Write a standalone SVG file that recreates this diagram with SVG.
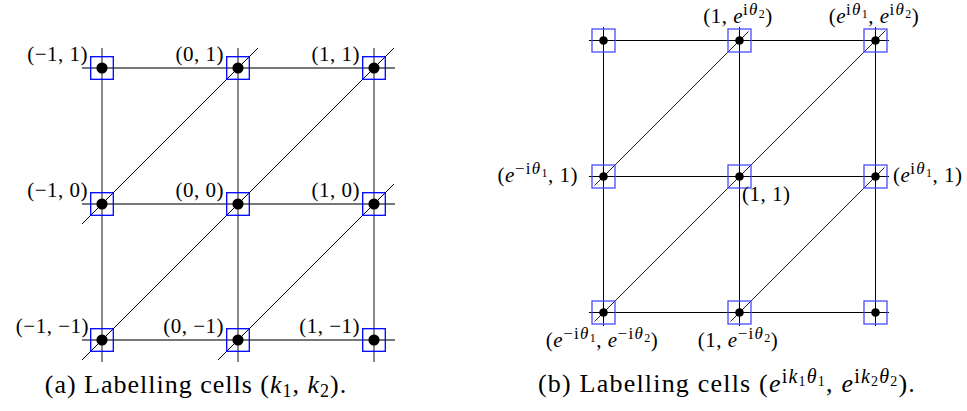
<svg xmlns="http://www.w3.org/2000/svg" width="967" height="411" viewBox="0 0 967 411" font-family="'Liberation Serif', 'DejaVu Serif', serif">
<style>
.lb{font-size:21px;letter-spacing:0.5px}
.cap{font-size:26px;letter-spacing:1px}
.capb{font-size:26px;letter-spacing:1.2px}
.it{font-style:italic}
.sp{font-size:17px;letter-spacing:1.3px}
.ss{font-size:12px;letter-spacing:0.5px}
.csp{font-size:20px}
.css{font-size:14px}
.gA{stroke:#4a4a4a;stroke-width:1.3;fill:none}
.dA{stroke:#000;stroke-width:1;fill:none}
.gB{stroke:#000;stroke-width:1;fill:none}
.dB{stroke:#000;stroke-width:0.9;fill:none}
.boxA{fill:none;stroke:#0000ff;stroke-width:1.3}
.boxB{fill:none;stroke:#4a4aff;stroke-width:1.3}
.dotA{fill:#000}
.dotB{fill:#000}
</style>
<rect width="967" height="411" fill="#fff"/>
<!-- Panel (a) connectors -->
<g id="connectors-a">
<line class="gA" x1="82" y1="68" x2="395" y2="68"/>
<line class="gA" x1="82" y1="204" x2="395" y2="204"/>
<line class="gA" x1="82" y1="340" x2="395" y2="340"/>
<line class="gA" x1="102" y1="48" x2="102" y2="362"/>
<line class="gA" x1="238" y1="48" x2="238" y2="362"/>
<line class="gA" x1="374" y1="48" x2="374" y2="362"/>
<line class="dA" x1="82" y1="360" x2="394" y2="48"/>
<line class="dA" x1="82" y1="224" x2="258" y2="48"/>
<line class="dA" x1="218" y1="360" x2="394" y2="184"/>
</g>
<!-- Panel (a) nodes -->
<g id="a-m1-1"><rect class="boxA" x="90.7" y="56.7" width="22.6" height="22.6"/><circle class="dotA" cx="102" cy="68" r="5.6"/><text class="lb" x="88" y="61" text-anchor="end">(−1, 1)</text></g>
<g id="a-0-1"><rect class="boxA" x="226.7" y="56.7" width="22.6" height="22.6"/><circle class="dotA" cx="238" cy="68" r="5.6"/><text class="lb" x="224" y="61" text-anchor="end">(0, 1)</text></g>
<g id="a-1-1"><rect class="boxA" x="362.7" y="56.7" width="22.6" height="22.6"/><circle class="dotA" cx="374" cy="68" r="5.6"/><text class="lb" x="360" y="61" text-anchor="end">(1, 1)</text></g>
<g id="a-m1-0"><rect class="boxA" x="90.7" y="192.7" width="22.6" height="22.6"/><circle class="dotA" cx="102" cy="204" r="5.6"/><text class="lb" x="88" y="197" text-anchor="end">(−1, 0)</text></g>
<g id="a-0-0"><rect class="boxA" x="226.7" y="192.7" width="22.6" height="22.6"/><circle class="dotA" cx="238" cy="204" r="5.6"/><text class="lb" x="224" y="197" text-anchor="end">(0, 0)</text></g>
<g id="a-1-0"><rect class="boxA" x="362.7" y="192.7" width="22.6" height="22.6"/><circle class="dotA" cx="374" cy="204" r="5.6"/><text class="lb" x="360" y="197" text-anchor="end">(1, 0)</text></g>
<g id="a-m1-m1"><rect class="boxA" x="90.7" y="328.7" width="22.6" height="22.6"/><circle class="dotA" cx="102" cy="340" r="5.6"/><text class="lb" x="89" y="333" text-anchor="end">(−1, −1)</text></g>
<g id="a-0-m1"><rect class="boxA" x="226.7" y="328.7" width="22.6" height="22.6"/><circle class="dotA" cx="238" cy="340" r="5.6"/><text class="lb" x="224" y="333" text-anchor="end">(0, −1)</text></g>
<g id="a-1-m1"><rect class="boxA" x="362.7" y="328.7" width="22.6" height="22.6"/><circle class="dotA" cx="374" cy="340" r="5.6"/><text class="lb" x="360" y="333" text-anchor="end">(1, −1)</text></g>
<text class="cap" x="196" y="393" text-anchor="middle">(a) Labelling cells (<tspan class="it">k</tspan><tspan font-size="18" dy="4">1</tspan><tspan dy="-4">, </tspan><tspan class="it">k</tspan><tspan font-size="18" dy="4">2</tspan><tspan dy="-4">).</tspan></text>

<!-- Panel (b) connectors -->
<g id="connectors-b">
<line class="gB" x1="589" y1="40.5" x2="889" y2="40.5"/>
<line class="gB" x1="589" y1="176.5" x2="889" y2="176.5"/>
<line class="gB" x1="589" y1="312.5" x2="889" y2="312.5"/>
<line class="gB" x1="603.5" y1="27" x2="603.5" y2="326"/>
<line class="gB" x1="739.5" y1="27" x2="739.5" y2="326"/>
<line class="gB" x1="875.5" y1="27" x2="875.5" y2="326"/>
<line class="dB" x1="594.5" y1="321.5" x2="885.5" y2="30.5"/>
<line class="dB" x1="594.5" y1="185.5" x2="748.5" y2="31.5"/>
<line class="dB" x1="730.5" y1="321.5" x2="884.5" y2="167.5"/>
</g>
<!-- Panel (b) nodes -->
<g id="b-m1-1"><rect class="boxB" x="592" y="29" width="23" height="23"/><circle class="dotB" cx="603.5" cy="40.5" r="4.3"/></g>
<g id="b-0-1"><rect class="boxB" x="728" y="29" width="23" height="23"/><circle class="dotB" cx="739.5" cy="40.5" r="4.3"/><text class="lb" x="738" y="23" text-anchor="middle">(1, <tspan class="it">e</tspan><tspan class="sp" dy="-8">i</tspan><tspan class="sp it">θ</tspan><tspan class="ss" dy="3">2</tspan><tspan dy="5">)</tspan></text></g>
<g id="b-1-1"><rect class="boxB" x="864" y="29" width="23" height="23"/><circle class="dotB" cx="875.5" cy="40.5" r="4.3"/><text class="lb" x="874" y="23" text-anchor="middle">(<tspan class="it">e</tspan><tspan class="sp" dy="-8">i</tspan><tspan class="sp it">θ</tspan><tspan class="ss" dy="3">1</tspan><tspan dy="5">, </tspan><tspan class="it">e</tspan><tspan class="sp" dy="-8">i</tspan><tspan class="sp it">θ</tspan><tspan class="ss" dy="3">2</tspan><tspan dy="5">)</tspan></text></g>
<g id="b-m1-0"><rect class="boxB" x="592" y="165" width="23" height="23"/><circle class="dotB" cx="603.5" cy="176.5" r="4.3"/><text class="lb" x="578" y="182" text-anchor="end">(<tspan class="it">e</tspan><tspan class="sp" dy="-8">−i</tspan><tspan class="sp it">θ</tspan><tspan class="ss" dy="3">1</tspan><tspan dy="5">, 1)</tspan></text></g>
<g id="b-0-0"><rect class="boxB" x="728" y="165" width="23" height="23"/><circle class="dotB" cx="739.5" cy="176.5" r="4.3"/><text class="lb" x="742" y="201">(1, 1)</text></g>
<g id="b-1-0"><rect class="boxB" x="864" y="165" width="23" height="23"/><circle class="dotB" cx="875.5" cy="176.5" r="4.3"/><text class="lb" x="893" y="182">(<tspan class="it">e</tspan><tspan class="sp" dy="-8">i</tspan><tspan class="sp it">θ</tspan><tspan class="ss" dy="3">1</tspan><tspan dy="5">, 1)</tspan></text></g>
<g id="b-m1-m1"><rect class="boxB" x="592" y="301" width="23" height="23"/><circle class="dotB" cx="603.5" cy="312.5" r="4.3"/><text class="lb" x="602" y="347" text-anchor="middle">(<tspan class="it">e</tspan><tspan class="sp" dy="-8">−i</tspan><tspan class="sp it">θ</tspan><tspan class="ss" dy="3">1</tspan><tspan dy="5">, </tspan><tspan class="it">e</tspan><tspan class="sp" dy="-8">−i</tspan><tspan class="sp it">θ</tspan><tspan class="ss" dy="3">2</tspan><tspan dy="5">)</tspan></text></g>
<g id="b-0-m1"><rect class="boxB" x="728" y="301" width="23" height="23"/><circle class="dotB" cx="739.5" cy="312.5" r="4.3"/><text class="lb" x="738" y="347" text-anchor="middle">(1, <tspan class="it">e</tspan><tspan class="sp" dy="-8">−i</tspan><tspan class="sp it">θ</tspan><tspan class="ss" dy="3">2</tspan><tspan dy="5">)</tspan></text></g>
<g id="b-1-m1"><rect class="boxB" x="864" y="301" width="23" height="23"/><circle class="dotB" cx="875.5" cy="312.5" r="4.3"/></g>
<text class="capb" x="727" y="392" text-anchor="middle">(b) Labelling cells (<tspan class="it">e</tspan><tspan class="csp" dy="-9">i</tspan><tspan class="csp it">k</tspan><tspan class="css" dy="3">1</tspan><tspan class="csp it" dy="-3">θ</tspan><tspan class="css" dy="3">1</tspan><tspan dy="6">, </tspan><tspan class="it">e</tspan><tspan class="csp" dy="-9">i</tspan><tspan class="csp it">k</tspan><tspan class="css" dy="3">2</tspan><tspan class="csp it" dy="-3">θ</tspan><tspan class="css" dy="3">2</tspan><tspan dy="6">).</tspan></text>
</svg>
